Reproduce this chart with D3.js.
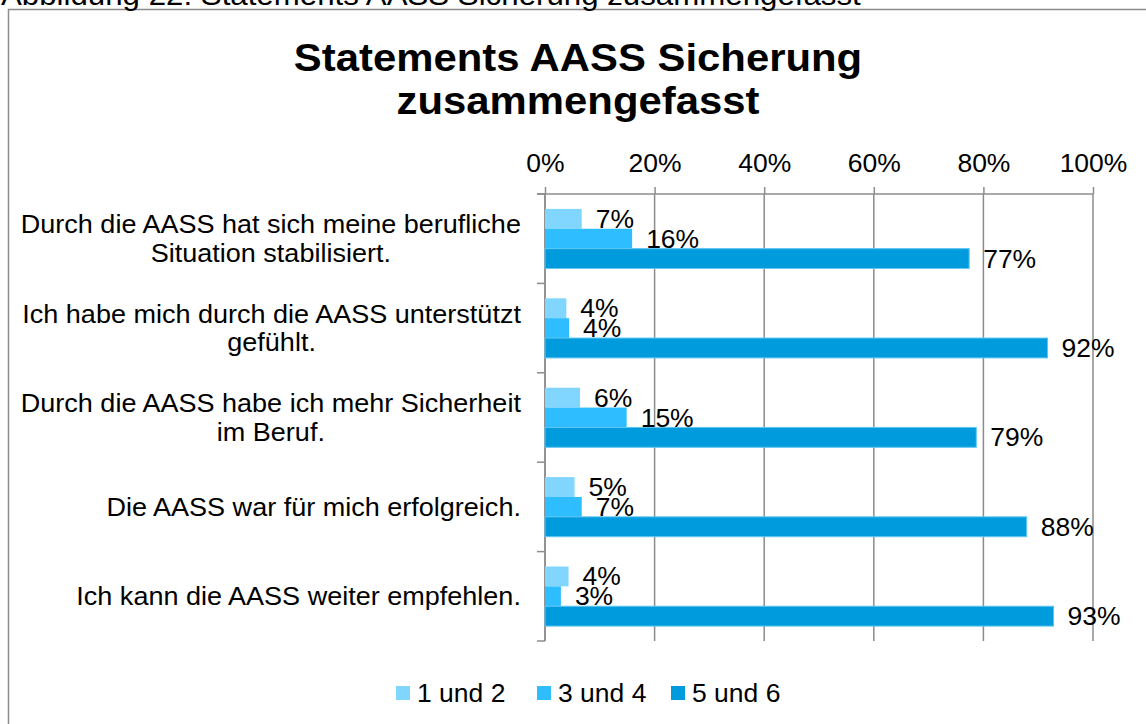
<!DOCTYPE html>
<html>
<head>
<meta charset="utf-8">
<script src="https://cdn.jsdelivr.net/npm/d3@7"></script>
<style>
  html, body { margin: 0; padding: 0; background: #ffffff; }
  svg { display: block; }
  text { font-family: "Liberation Sans", Arial, sans-serif; fill: #000; }
</style>
</head>
<body>
<svg id="chart" width="1146" height="724"></svg>
<script>
// ---- data ----
const caption = "Abbildung 22: Statements AASS Sicherung zusammengefasst";
const titleLines = ["Statements AASS Sicherung", "zusammengefasst"];
const categories = [
  "Durch die AASS hat sich meine berufliche\nSituation stabilisiert.",
  "Ich habe mich durch die AASS unterstützt\ngefühlt.",
  "Durch die AASS habe ich mehr Sicherheit\nim Beruf.",
  "Die AASS war für mich erfolgreich.",
  "Ich kann die AASS weiter empfehlen."
];
const seriesNames = ["1 und 2", "3 und 4", "5 und 6"];
const values12 = [6.7, 3.9, 6.4, 5.4, 4.3];
const values34 = [15.9, 4.4, 14.9, 6.7, 2.9];
const values56 = [77.4, 91.7, 78.7, 87.9, 92.8];
const tickValues = [0, 20, 40, 60, 80, 100];
const colors = ["#80d6ff", "#2ebdff", "#009bdc"];

const seriesValues = [values12, values34, values56];
const SX = 1.06; // slight horizontal text stretch seen in the reference

const svg = d3.select("#chart");

function stretchedText(g, x, y, str, size, anchor, weight) {
  return g.append("text")
    .attr("transform", `translate(${x},${y}) scale(${SX},1)`)
    .attr("text-anchor", anchor || "start")
    .style("font-size", size + "px")
    .style("font-weight", weight || "normal")
    .text(str);
}

// outer chart border (right/bottom edges fall outside the picture)
svg.append("rect")
  .attr("x", 8.5).attr("y", 9.5)
  .attr("width", 1160).attr("height", 740)
  .attr("fill", "none").attr("stroke", "#8c8c8c").attr("stroke-width", 1.5);

// caption above the chart (cut off at top)
stretchedText(svg, 1, 5, caption, 29.5, "start");

// title
titleLines.forEach((t, i) => stretchedText(svg, 578, 71 + i * 43, t, 39.5, "middle", "bold"));

// scales
const plotLeft = 545, plotRight = 1093, plotTop = 194, plotBottom = 641;
const x = d3.scaleLinear().domain([0, 100]).range([plotLeft, plotRight]);
const y = d3.scaleBand().domain(categories).range([plotTop, plotBottom]).padding(0);
const ySub = d3.scaleBand().domain(seriesNames).range([0, y.bandwidth()])
  .paddingInner(0).paddingOuter(0.75);

const grid = "#8c8c8c";

// vertical gridlines
svg.append("g").selectAll("line").data(tickValues).join("line")
  .attr("x1", d => x(d)).attr("x2", d => x(d))
  .attr("y1", plotTop).attr("y2", plotBottom)
  .attr("stroke", grid).attr("stroke-width", 1.5);

// top axis
const xAxis = d3.axisTop(x).tickValues(tickValues).tickSize(7).tickSizeOuter(0)
  .tickFormat(d => d + "%");
const gx = svg.append("g").attr("transform", `translate(0,${plotTop})`).call(xAxis);
gx.select(".domain").attr("stroke", grid).attr("stroke-width", 1.5)
  .attr("d", `M${plotLeft - 8},0H${plotRight}`);
gx.selectAll(".tick line").attr("stroke", grid).attr("stroke-width", 1.5);
gx.selectAll(".tick text")
  .attr("y", 0).attr("dy", null)
  .attr("transform", `translate(0,-22) scale(${SX},1)`)
  .style("font-size", "25px")
  .style("font-family", '"Liberation Sans", Arial, sans-serif')
  .attr("fill", "#000");

// left category axis with ticks at category boundaries
const bounds = categories.map(c => y(c)).concat([plotBottom]);
svg.append("line")
  .attr("x1", plotLeft).attr("x2", plotLeft)
  .attr("y1", plotTop).attr("y2", plotBottom)
  .attr("stroke", grid).attr("stroke-width", 1.5);
svg.append("g").selectAll("line").data(bounds).join("line")
  .attr("x1", plotLeft - 8).attr("x2", plotLeft)
  .attr("y1", d => d).attr("y2", d => d)
  .attr("stroke", grid).attr("stroke-width", 1.5);

// category labels (right-aligned block, lines centred within block)
const labelFont = 25.5;
const lh = 28.5;
const labelG = svg.append("g");
categories.forEach(c => {
  const lines = c.split("\n");
  const cy = y(c) + y.bandwidth() / 2;
  const g = labelG.append("g");
  const t = g.append("text")
    .attr("text-anchor", "middle")
    .style("font-size", labelFont + "px");
  lines.forEach((ln, i) => {
    t.append("tspan").attr("x", 0)
      .attr("y", (i - (lines.length - 1) / 2) * lh + labelFont * 0.35)
      .text(ln);
  });
  const w = t.node().getBBox().width * SX;
  g.attr("transform", `translate(${plotLeft - 24 - w / 2},${cy}) scale(${SX},1)`);
});

// bars
const barData = [];
categories.forEach((c, ci) => {
  seriesNames.forEach((s, si) => {
    barData.push({ cat: c, series: s, si, v: seriesValues[si][ci] });
  });
});

svg.append("g").selectAll("rect").data(barData).join("rect")
  .attr("x", x(0))
  .attr("y", d => y(d.cat) + ySub(d.series))
  .attr("width", d => x(d.v) - x(0))
  .attr("height", ySub.bandwidth())
  .attr("fill", d => colors[d.si])
  .attr("stroke", d => d.si === 2 ? "#5ec6f2" : "none")
  .attr("stroke-width", 1);

// data labels
const dl = svg.append("g");
barData.forEach(d => {
  const cy = y(d.cat) + ySub(d.series) + ySub.bandwidth() / 2;
  stretchedText(dl, x(d.v) + 14, cy + 9, Math.round(d.v) + "%", 25, "start");
});

// legend
const legendX = [396, 537, 671];
const lg = svg.append("g");
seriesNames.forEach((s, i) => {
  lg.append("rect").attr("x", legendX[i]).attr("y", 686)
    .attr("width", 14).attr("height", 14).attr("fill", colors[i]);
  stretchedText(lg, legendX[i] + 21, 702, s, 25, "start");
});
</script>
</body>
</html>
